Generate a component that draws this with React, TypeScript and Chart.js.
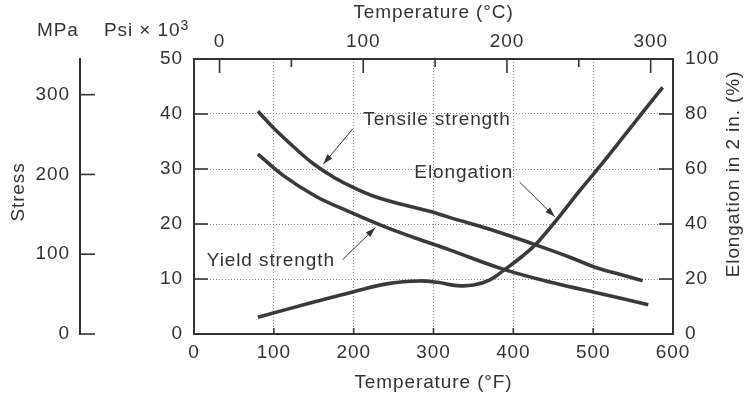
import React, { useEffect, useRef } from "react";
import { Chart, registerables } from "chart.js";

Chart.register(...registerables);

const FONT = '"Liberation Sans", Arial, Helvetica, sans-serif';
const INK = "#333333";
const GRID = "#8c8c8c";
const SPACING = "0.9px";

// ---- data (temperature in °F, stress in ksi, elongation in %) ----
const tensileTempF = [80, 100, 125, 150, 175, 200, 228, 260, 295, 320, 380, 428, 470, 507, 540, 562];
const tensileKsi = [40.5, 37.4, 34.0, 30.9, 28.5, 26.6, 24.9, 23.6, 22.3, 21.2, 18.6, 16.2, 14.0, 11.9, 10.6, 9.7];

const yieldTempF = [80, 112, 153, 195, 237, 278, 320, 387, 450, 507, 540, 569];
const yieldKsi = [32.7, 28.8, 25.0, 22.2, 19.6, 17.4, 15.3, 11.8, 9.3, 7.4, 6.3, 5.3];

const elongTempF = [80, 150, 200, 245, 282, 305, 330, 350, 370, 390, 410, 430, 455, 480, 507, 540, 587];
const elongPct = [6.1, 11.6, 15.4, 18.4, 19.3, 18.8, 17.6, 17.8, 19.6, 23.6, 28.0, 33.2, 41.8, 51.0, 60.5, 72.5, 89.7];

// ---- tick labels ----
const fahrenheitTicks = [0, 100, 200, 300, 400, 500, 600];
const celsiusMajor = [0, 100, 200, 300];
const celsiusMinor = [50, 150, 250];
const psiTicks = [0, 10, 20, 30, 40, 50];
const mpaTicks = [0, 100, 200, 300];
const elongTicks = [0, 20, 40, 60, 80, 100];

const KSI_TO_MPA = 6.894757;
const f2c = (f: number) => (f - 32) / 1.8;

// curve labels: text anchor and arrow in data coordinates (°F, ksi)
const curveLabels = [
  { text: "Tensile strength", tx: 212, ty: 38.0, ax0: 199, ay0: 37.3, ax1: 162, ay1: 30.9 },
  { text: "Elongation", tx: 276, ty: 28.4, ax0: 408, ay0: 27.6, ax1: 452, ay1: 21.3 },
  { text: "Yield strength", tx: 16, ty: 12.4, ax0: 186, ay0: 13.5, ax1: 227, ay1: 19.3 },
];

const FS = 19;
const fontMain = { family: FONT, size: FS };

const decorPlugin = {
  id: "decor",
  beforeDraw(chart: any) {
    (chart.ctx as any).letterSpacing = SPACING;
  },
  afterDraw(chart: any) {
    const { ctx, chartArea: ca, scales } = chart;
    const { x, x2, y, yE, yM } = scales;
    ctx.save();
    (ctx as any).letterSpacing = SPACING;
    ctx.setLineDash([]);
    ctx.strokeStyle = INK;
    ctx.fillStyle = INK;
    const seg = (a: number, b: number, c: number, d: number) => {
      ctx.beginPath();
      ctx.moveTo(a, b);
      ctx.lineTo(c, d);
      ctx.stroke();
    };
    // inward tick marks
    ctx.lineWidth = 1.6;
    psiTicks.forEach((v) => {
      const p = y.getPixelForValue(v);
      seg(ca.left, p, ca.left + 14, p);
    });
    elongTicks.forEach((v) => {
      const p = yE.getPixelForValue(v);
      seg(ca.right, p, ca.right - 14, p);
    });
    fahrenheitTicks.forEach((v) => {
      const p = x.getPixelForValue(v);
      seg(p, ca.bottom, p, ca.bottom - 6);
    });
    celsiusMajor.forEach((v) => {
      const p = x2.getPixelForValue(v);
      seg(p, ca.top, p, ca.top + 14);
    });
    celsiusMinor.forEach((v) => {
      const p = x2.getPixelForValue(v);
      seg(p, ca.top, p, ca.top + 8);
    });
    mpaTicks.forEach((v) => {
      const p = yM.getPixelForValue(v);
      seg(yM.right, p, yM.right + 15, p);
    });

    // curve labels with arrows
    ctx.font = `${FS}px ${FONT}`;
    ctx.textAlign = "left";
    ctx.textBaseline = "alphabetic";
    curveLabels.forEach((a) => {
      ctx.fillText(a.text, x.getPixelForValue(a.tx), y.getPixelForValue(a.ty));
      const x0 = x.getPixelForValue(a.ax0);
      const y0 = y.getPixelForValue(a.ay0);
      const x1 = x.getPixelForValue(a.ax1);
      const y1 = y.getPixelForValue(a.ay1);
      ctx.lineWidth = 1;
      seg(x0, y0, x1, y1);
      const ang = Math.atan2(y1 - y0, x1 - x0);
      const L = 10;
      const W = 3.2;
      ctx.beginPath();
      ctx.moveTo(x1, y1);
      ctx.lineTo(x1 - L * Math.cos(ang) + W * Math.sin(ang), y1 - L * Math.sin(ang) - W * Math.cos(ang));
      ctx.lineTo(x1 - L * Math.cos(ang) - W * Math.sin(ang), y1 - L * Math.sin(ang) + W * Math.cos(ang));
      ctx.closePath();
      ctx.fill();
    });

    // unit headers
    ctx.fillText("MPa", 37, 36);
    ctx.fillText("Psi × 10", 104, 36);
    const w = ctx.measureText("Psi × 10").width;
    ctx.font = `14px ${FONT}`;
    ctx.fillText("3", 104 + w, 30);

    // rotated axis titles
    ctx.font = `${FS}px ${FONT}`;
    ctx.textAlign = "center";
    ctx.textBaseline = "middle";
    ctx.save();
    ctx.translate(19, 192);
    ctx.rotate(-Math.PI / 2);
    ctx.fillText("Stress", 0, 0);
    ctx.restore();
    ctx.save();
    ctx.translate(734, 174);
    ctx.rotate(-Math.PI / 2);
    ctx.fillText("Elongation in 2 in. (%)", 0, 0);
    ctx.restore();

    ctx.restore();
  },
};

const setTicks = (vals: number[]) => (s: any) => {
  s.ticks = vals.map((v) => ({ value: v }));
};

const edgeHidden = (lo: number, hi: number) => (c: any) =>
  c.tick && (c.tick.value === lo || c.tick.value === hi) ? "rgba(0,0,0,0)" : GRID;

export default function App() {
  const ref = useRef<HTMLCanvasElement | null>(null);

  useEffect(() => {
    if (!ref.current) return;
    const toPts = (xs: number[], ys: number[]) => xs.map((v, i) => ({ x: v, y: ys[i] }));
    const lineStyle = {
      borderColor: "#3a3a3a",
      borderWidth: 3.6,
      pointRadius: 0,
      fill: false,
      tension: 0.4,
      borderCapStyle: "butt" as const,
    };
    const chart = new Chart(ref.current, {
      type: "line",
      data: {
        datasets: [
          { label: "Tensile strength", data: toPts(tensileTempF, tensileKsi), xAxisID: "x", yAxisID: "y", ...lineStyle },
          { label: "Yield strength", data: toPts(yieldTempF, yieldKsi), xAxisID: "x", yAxisID: "y", ...lineStyle },
          { label: "Elongation", data: toPts(elongTempF, elongPct), xAxisID: "x", yAxisID: "yE", ...lineStyle },
        ],
      },
      options: {
        responsive: false,
        animation: false,
        events: [],
        layout: { padding: 0 },
        plugins: { legend: { display: false }, tooltip: { enabled: false } },
        scales: {
          x: {
            type: "linear",
            position: "bottom",
            min: 0,
            max: 600,
            afterBuildTicks: setTicks(fahrenheitTicks),
            afterFit: (s: any) => {
              s.height = 63;
            },
            ticks: { font: fontMain, color: INK, padding: 7, maxRotation: 0, autoSkip: false },
            grid: { drawTicks: false, color: edgeHidden(0, 600), lineWidth: 1 },
            border: { color: INK, width: 2, dash: [1, 2] },
            title: { display: true, text: "Temperature (°F)", font: fontMain, color: INK, padding: { top: 0, bottom: 3 } },
          },
          x2: {
            type: "linear",
            position: "top",
            min: f2c(0),
            max: f2c(600),
            afterBuildTicks: setTicks(celsiusMajor),
            afterFit: (s: any) => {
              s.height = 59;
            },
            ticks: { font: fontMain, color: INK, padding: 6, maxRotation: 0, autoSkip: false },
            grid: { display: false, drawTicks: false },
            border: { color: INK, width: 2 },
            title: { display: true, text: "Temperature (°C)", font: fontMain, color: INK, padding: { top: 1, bottom: 0 } },
          },
          yM: {
            type: "linear",
            position: "left",
            weight: 1,
            min: 0,
            max: 50 * KSI_TO_MPA,
            afterBuildTicks: setTicks(mpaTicks),
            afterFit: (s: any) => {
              s.width = 80;
            },
            ticks: { font: fontMain, color: INK, padding: 10 },
            grid: { display: false, drawTicks: false },
            border: { color: INK, width: 2 },
          },
          y: {
            type: "linear",
            position: "left",
            weight: 0,
            min: 0,
            max: 50,
            afterBuildTicks: setTicks(psiTicks),
            afterFit: (s: any) => {
              s.width = 114;
            },
            ticks: { font: fontMain, color: INK, padding: 11 },
            grid: { drawTicks: false, color: edgeHidden(0, 50), lineWidth: 1 },
            border: { color: INK, width: 2, dash: [1, 2] },
          },
          yE: {
            type: "linear",
            position: "right",
            min: 0,
            max: 100,
            afterBuildTicks: setTicks(elongTicks),
            afterFit: (s: any) => {
              s.width = 73;
            },
            ticks: { font: fontMain, color: INK, padding: 12 },
            grid: { display: false, drawTicks: false },
            border: { color: INK, width: 2 },
          },
        },
      },
      plugins: [decorPlugin],
    });
    return () => chart.destroy();
  }, []);

  return (
    <div style={{ position: "absolute", left: 0, top: 0, width: 746, height: 397, background: "#fff" }}>
      <canvas ref={ref} width={746} height={397} style={{ display: "block" }} />
    </div>
  );
}
